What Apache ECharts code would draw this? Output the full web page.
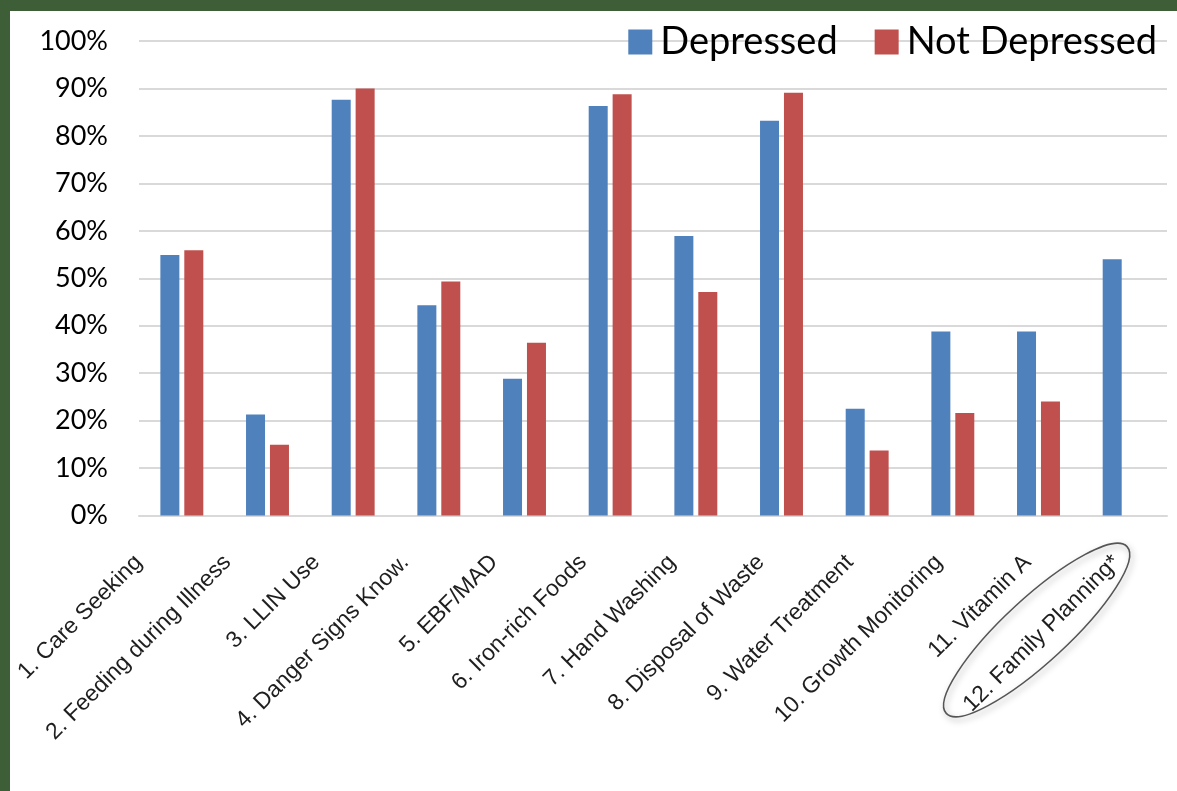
<!DOCTYPE html>
<html>
<head>
<meta charset="utf-8">
<script src="https://cdn.jsdelivr.net/npm/echarts@6/dist/echarts.min.js"></script>
<style>
  html, body { margin: 0; padding: 0; background: #ffffff; }
  #chart { position: absolute; left: 0; top: 0; width: 1177px; height: 791px; }
  .frame { position: absolute; background: #3D5E37; z-index: 5; }
</style>
</head>
<body>
<div id="chart"></div>
<div class="frame" style="left:0;top:0;width:10px;height:791px;"></div>
<div class="frame" style="left:0;top:0;width:1177px;height:11px;"></div>
<script>
// Practice indicators, share of mothers (%)
const categories = [
  '1. Care Seeking',
  '2. Feeding during Illness',
  '3. LLIN Use',
  '4. Danger Signs Know.',
  '5. EBF/MAD',
  '6. Iron-rich Foods',
  '7. Hand Washing',
  '8. Disposal of Waste',
  '9. Water Treatment',
  '10. Growth Monitoring',
  '11. Vitamin A',
  '12. Family Planning*'
];
const depressed    = [54.9, 21.3, 87.6, 44.3, 28.8, 86.3, 58.9, 83.2, 22.5, 38.8, 38.8, 54.0];
const notDepressed = [55.9, 14.9, 90.0, 49.3, 36.4, 88.8, 47.1, 89.1, 13.7, 21.6, 24.0, null];
const yTicks = { min: 0, max: 100, step: 10 };

const chart = echarts.init(document.getElementById('chart'), null, { renderer: 'canvas' });

const option = {
  backgroundColor: '#ffffff',
  animation: false,
  // grid 0 holds the bars; grid 1 only carries the slanted category labels,
  // which are spread a little wider than the bar groups
  grid: [
    { left: 139, right: 10, top: 41, bottom: 275.5, containLabel: false },
    { left: 110, width: 1066.8, top: 41, bottom: 275.5, containLabel: false }
  ],
  legend: {
    right: 15,
    top: 18,
    itemWidth: 24,
    itemHeight: 25,
    itemGap: 37,
    icon: 'rect',
    textStyle: { fontFamily: 'Lato', fontSize: 38, color: '#000000', padding: [0, 0, 0, 3] },
    data: ['Depressed', 'Not Depressed']
  },
  xAxis: [
    {
      type: 'category',
      gridIndex: 0,
      data: categories,
      axisLine: { show: true, lineStyle: { color: '#D9D9D9', width: 2 } },
      axisTick: { show: false },
      axisLabel: { show: false }
    },
    {
      type: 'category',
      gridIndex: 1,
      data: categories,
      axisLine: { show: false },
      axisTick: { show: false },
      splitLine: { show: false },
      axisLabel: {
        interval: 0,
        rotate: 45,
        margin: 27.5,
        padding: [0, 22.4, 0, 0],
        fontFamily: 'Liberation Sans',
        fontSize: 23,
        color: '#1e1e1e'
      }
    }
  ],
  yAxis: [
    {
      type: 'value',
      gridIndex: 0,
      min: yTicks.min,
      max: yTicks.max,
      interval: yTicks.step,
      axisLine: { show: false },
      axisTick: { show: false },
      splitLine: { lineStyle: { color: '#D9D9D9', width: 2 } },
      axisLabel: {
        formatter: '{value}%',
        margin: 31,
        fontFamily: 'Lato',
        fontSize: 27,
        color: '#000000'
      }
    },
    {
      type: 'value',
      gridIndex: 1,
      min: yTicks.min,
      max: yTicks.max,
      show: false
    }
  ],
  series: [
    {
      name: 'Depressed',
      type: 'bar',
      xAxisIndex: 0,
      yAxisIndex: 0,
      data: depressed,
      barWidth: 19,
      barGap: '26%',
      itemStyle: { color: '#4F81BD' }
    },
    {
      name: 'Not Depressed',
      type: 'bar',
      xAxisIndex: 0,
      yAxisIndex: 0,
      data: notDepressed,
      barWidth: 19,
      itemStyle: { color: '#C0504D' }
    }
  ]
};

chart.setOption(option);

// Highlight ring around the last category label
const lastCat = categories[categories.length - 1];
const px = chart.convertToPixel({ xAxisIndex: 1 }, lastCat);
const py = chart.convertToPixel({ yAxisIndex: 0 }, 0);
const cx = px - 95.7;
const cy = py + 114.5;
chart.setOption({
  graphic: [{
    type: 'ellipse',
    x: cx,
    y: cy,
    rotation: 42.7 * Math.PI / 180,
    shape: { cx: 0, cy: 0, rx: 123, ry: 32 },
    style: {
      fill: 'none',
      stroke: '#555555',
      lineWidth: 1.6,
      shadowBlur: 6,
      shadowColor: 'rgba(0,0,0,0.35)',
      shadowOffsetX: 2,
      shadowOffsetY: 3
    },
    z: 100
  }]
});
</script>
</body>
</html>
